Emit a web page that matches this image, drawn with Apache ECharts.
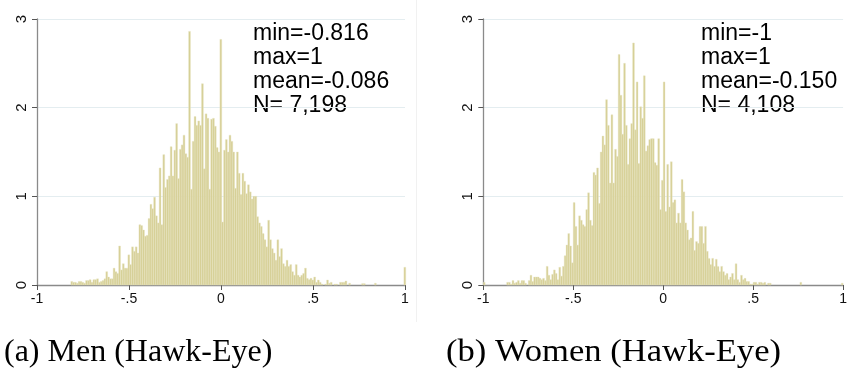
<!DOCTYPE html>
<html><head><meta charset="utf-8">
<script src="https://cdn.jsdelivr.net/npm/echarts@6/dist/echarts.min.js"></script>
<style>html,body{margin:0;padding:0;background:#fff}#c{width:850px;height:373px}</style>
</head><body><div id="c"></div>
<script>
// ---------------- data ----------------
const binWidth = 0.01;
const menStart = -0.816;
const menDensity = [
0.04,0.03,0.03,0.02,0.04,0.04,0.03,0.02,0.05,0.05,0.06,0.03,0.06,0.06,0.07,0.03,0.04,0.05,0.07,0.15,0.09,0.07,0.07,0.19,0.15,0.13,0.44,
0.17,0.24,0.19,0.19,0.34,0.23,0.43,0.38,0.43,0.36,
0.68,0.67,0.62,0.55,0.56,0.75,
0.91,0.86,0.99,0.78,0.70,1.32,0.68,1.47,1.10,1.19,1.23,1.56,1.23,1.52,1.82,1.20,1.53,1.58,1.69,1.48,1.44,
2.86,
1.08,1.62,1.90,1.80,1.85,1.80,2.27,1.31,1.93,1.88,1.08,1.87,1.88,1.79,1.55,1.50,
2.77,
0.71,1.52,1.64,1.50,1.69,1.62,1.50,1.09,1.50,1.26,1.02,1.26,1.17,1.03,1.13,1.05,0.97,1.00,1.00,0.77,0.70,0.66,0.58,0.51,0.43,0.73,0.51,0.41,0.36,0.28,0.51,0.32,0.41,0.24,0.21,0.28,0.21,0.23,0.15,0.11,0.23,0.11,0.09,0.11,0.13,0.19,0.075,0.06,
0.075,0.056,0.09,0.03,0.056,0.03,0.01,0,0.01,0.056,
0.02,0.03,0,0.01,0.01,0,0.03,0.03,0.03,0.045,
0,0.02,0,0,0,0,0,0,0.015,0.015,
0,0,0,0,0,0.02,0,0,0,0,
0,0,0,0,0,0,0,0,0,0,
0,0.2
];
const womenStart = -1;
const womenDensity = [
0.03,
0,0,0,0,0,0,0,0,0,0,0,0,
0.03,0.03,0.01,0.05,0.02,0.03,0.05,0.02,0.05,0.05,0.02,0,0.05,0.11,0.04,0.09,0.09,0.09,0.075,0.06,0.075,0.05,0.21,0.11,0.06,0.12,0.17,0.13,0.06,0.2,0.1,0.21,
0.33,0.45,0.58,0.44,0.25,0.93,0.66,0.45,0.78,0.73,0.68,0.66,0.85,1.04,0.73,0.67,1.27,1.24,1.32,0.92,1.5,1.68,
1.58,2.09,1.8,1.15,1.92,1.15,1.53,1.45,2.6,2.14,1.7,2.5,1.8,1.36,1.65,1.82,2.73,1.75,2.29,1.37,2.01,1.88,2.36,1.51,1.57,1.64,1.65,1.65,1.38,1.35,1.65,0.85,1.18,
2.29,
0.83,1.36,
0.88,1.39,0.93,0.96,0.7,0.81,0.7,1.19,1.05,0.7,0.62,0.51,0.53,0.83,0.39,0.49,0.47,0.66,0.66,0.47,0.66,0.38,0.3,0.23,0.3,0.21,0.29,0.21,0.15,0.21,0.15,0.11,0.13,0.06,0.09,0.13,0.06,0.24,0.06,0.03,0.11,0.06,0.075,0.04,0.04,0.01,0.01,0.03,0.03,0.01,0.03,
0.03,0.02,0.03,0,0.02,0.02,
0,0,0,0,0,0,0,0,0,0,0,0,0,0,0,0,
0.03,
0,0,0,0,0,0,0,0,0,0,0,0,0,0,0,0,0,0,0,0,0,0,0.02
];
const xTicks = [-1, -0.5, 0, 0.5, 1];
const xTickLabels = ['-1', '-.5', '0', '.5', '1'];
const yTicks = [0, 1, 2, 3];
const yTickLabels = ['0', '1', '2', '3'];
const menStats = ['min=-0.816', 'max=1', 'mean=-0.086', 'N= 7,198'];
const womenStats = ['min=-1', 'max=1', 'mean=-0.150', 'N= 4,108'];
const captions = ['(a) Men (Hawk-Eye)', '(b) Women (Hawk-Eye)'];

// ---------------- build ----------------
function bins(start, dens) {
  return dens.map((d, i) => [start + i * binWidth, start + (i + 1) * binWidth, d]);
}
function renderBar(params, api) {
  const d = api.value(2);
  if (!d) return null;
  const p0 = api.coord([api.value(0), d]);
  const p1 = api.coord([api.value(1), 0]);
  return {
    type: 'rect',
    shape: { x: p0[0], y: p0[1], width: p1[0] - p0[0], height: p1[1] - p0[1] },
    style: { fill: '#d6cf95', stroke: '#e9e5c6', lineWidth: 0.4 }
  };
}
const axisFont = 'Liberation Sans';
function xAxis(idx) {
  return {
    type: 'value', gridIndex: idx, min: xTicks[0], max: xTicks[xTicks.length - 1], interval: 0.5,
    axisLine: { show: true, onZero: false, lineStyle: { color: '#8a8a8a', width: 1.3 } },
    axisTick: { show: true, length: 5, lineStyle: { color: '#555', width: 1 } },
    axisLabel: { fontFamily: axisFont, fontSize: 14, color: '#111', margin: 7,
      formatter: v => { const i = xTicks.findIndex(t => Math.abs(t - v) < 1e-9); return i >= 0 ? xTickLabels[i] : ''; } },
    splitLine: { show: false }
  };
}
function yAxis(idx) {
  return {
    type: 'value', gridIndex: idx, min: yTicks[0], max: yTicks[yTicks.length - 1], interval: 1,
    axisLine: { show: true, onZero: false, lineStyle: { color: '#8a8a8a', width: 1.3 } },
    axisTick: { show: true, length: 5, lineStyle: { color: '#555', width: 1 } },
    axisLabel: { fontFamily: axisFont, fontSize: 15, color: '#111', rotate: 90, margin: 8,
      formatter: v => { const i = yTicks.indexOf(v); return i >= 0 ? yTickLabels[i] : ''; } },
    splitLine: { show: true, lineStyle: { color: '#e4edf0', width: 1 } }
  };
}
function statText(lines, x) {
  return lines.map((t, i) => ({
    type: 'text', x: x, y: 33.5 + i * 24.2,
    style: { text: t, font: '23px "Liberation Sans"', fill: '#000', verticalAlign: 'middle', align: 'left' }
  }));
}
const chart = echarts.init(document.getElementById('c'), null, { renderer: 'canvas' });
chart.setOption({
  animation: false,
  backgroundColor: '#fff',
  grid: [
    { left: 37, top: 19, width: 368, height: 266 },
    { left: 483.3, top: 19, width: 372, height: 266 }
  ],
  xAxis: [xAxis(0), xAxis(1)],
  yAxis: [yAxis(0), yAxis(1)],
  series: [
    { type: 'custom', xAxisIndex: 0, yAxisIndex: 0, renderItem: renderBar, encode: { x: [0, 1], y: 2 }, data: bins(menStart, menDensity), clip: false },
    { type: 'custom', xAxisIndex: 1, yAxisIndex: 1, renderItem: renderBar, encode: { x: [0, 1], y: 2 }, data: bins(womenStart, womenDensity), clip: false }
  ],
  graphic: [
    { type: 'line', shape: { x1: 416.5, y1: 0, x2: 416.5, y2: 322 }, style: { stroke: '#f1f1f1', lineWidth: 1 } },
    ...statText(menStats, 253),
    ...statText(womenStats, 701),
    { type: 'text', x: 4, y: 353, style: { text: captions[0], font: '32px "Liberation Serif"', fill: '#000', verticalAlign: 'middle' } },
    { type: 'text', x: 446, y: 353, scaleX: 1.08, style: { text: captions[1], font: '32px "Liberation Serif"', fill: '#000', verticalAlign: 'middle' } }
  ]
});
</script>
</body></html>
